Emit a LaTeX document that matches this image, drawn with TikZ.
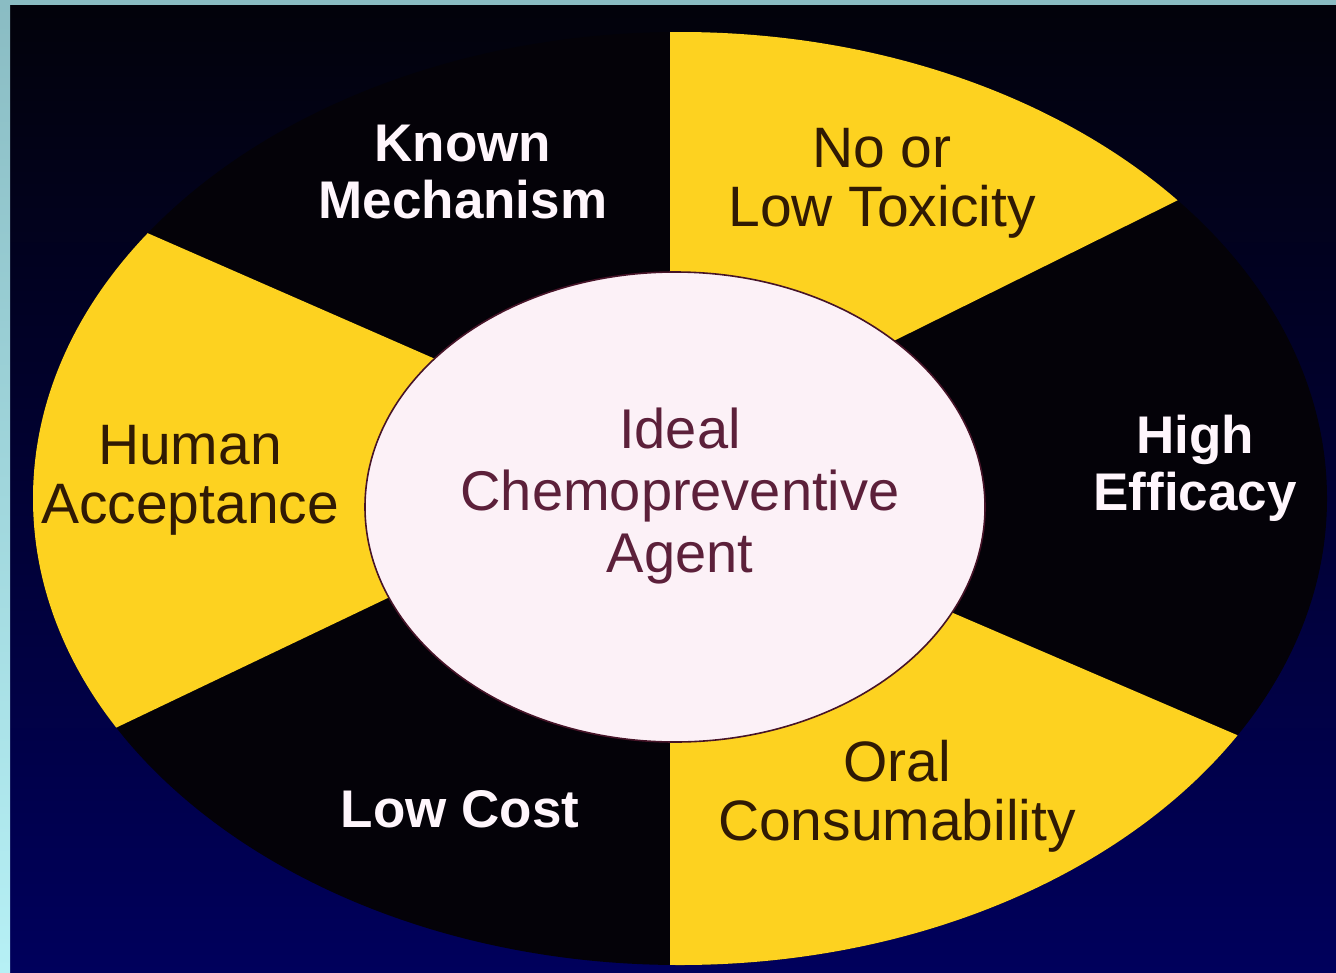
\documentclass[tikz,border=0pt]{standalone}
\usepackage{fontspec}
\setmainfont{Liberation Sans}
\definecolor{segyellow}{RGB}{253,210,32}
\definecolor{segblack}{RGB}{4,2,8}
\definecolor{corewhite}{RGB}{252,241,247}
\definecolor{corerim}{RGB}{70,20,40}
\definecolor{inkbrown}{RGB}{48,26,4}
\definecolor{inkmaroon}{RGB}{92,32,58}
\definecolor{inkwhite}{RGB}{255,246,252}
\definecolor{bgtop}{RGB}{2,2,10}
\definecolor{bgbottom}{RGB}{0,0,92}
\definecolor{rimtop}{RGB}{138,188,195}
\definecolor{rimbottom}{RGB}{182,240,245}
\begin{document}
\begin{tikzpicture}[x=1pt,y=-1pt,
  yellowseg/.style={fill=segyellow},
  darklabel/.style={text=inkbrown,align=center,anchor=north,inner sep=0pt,
    font=\fontsize{57}{59}\selectfont},
  corelabel/.style={text=inkmaroon,align=center,anchor=north,inner sep=0pt,
    font=\fontsize{56}{62}\selectfont},
  brightlabel/.style={text=inkwhite,align=center,anchor=north,inner sep=0pt,
    font=\bfseries\fontsize{53}{57}\selectfont}]
\useasboundingbox (0,0) rectangle (1336,972);

% backdrop with the pale frame on the left and top
\shade[top color=bgtop,bottom color=bgbottom] (0,0) rectangle (1336,972);
\shade[top color=rimtop,bottom color=rimbottom] (0,0) rectangle (10,972);
\fill[rimtop] (0,0) rectangle (1336,5);

% outer disc split into six sectors
\begin{scope}
  \clip (680,498.5) ellipse [x radius=647pt,y radius=466.5pt];
  \fill[segblack] (0,0) rectangle (1336,972);
  % upper right sector
  \fill[yellowseg] (670,380) -- (670,0) -- (1263,0) -- (1263,158) -- (831,372) -- cycle;
  % left sector
  \fill[yellowseg] (529,400) -- (65,197) -- (0,197) -- (0,764) -- (40,764) -- (482,553) -- cycle;
  % lower right sector
  \fill[yellowseg] (670,620) -- (846,567) -- (1330,775) -- (1336,972) -- (670,972) -- cycle;
\end{scope}

% central disc
\fill[corewhite,draw=corerim,line width=1.6pt] (675,507) ellipse [x radius=310pt,y radius=235pt];

% labels
\node[corelabel] (core) at (680,408) {Ideal\\Chemopreventive\\Agent};
\node[brightlabel] (mechanism) at (463,125) {Known\\Mechanism};
\node[darklabel] (toxicity) at (882,128) {No or\\Low Toxicity};
\node[brightlabel] (efficacy) at (1195,415) {High\\Efficacy};
\node[darklabel] (oral) at (897,740) {Oral\\Consumability};
\node[brightlabel] (cost) at (460,790) {Low Cost};
\node[darklabel] (acceptance) at (190,425) {Human\\Acceptance};
\end{tikzpicture}
\end{document}
